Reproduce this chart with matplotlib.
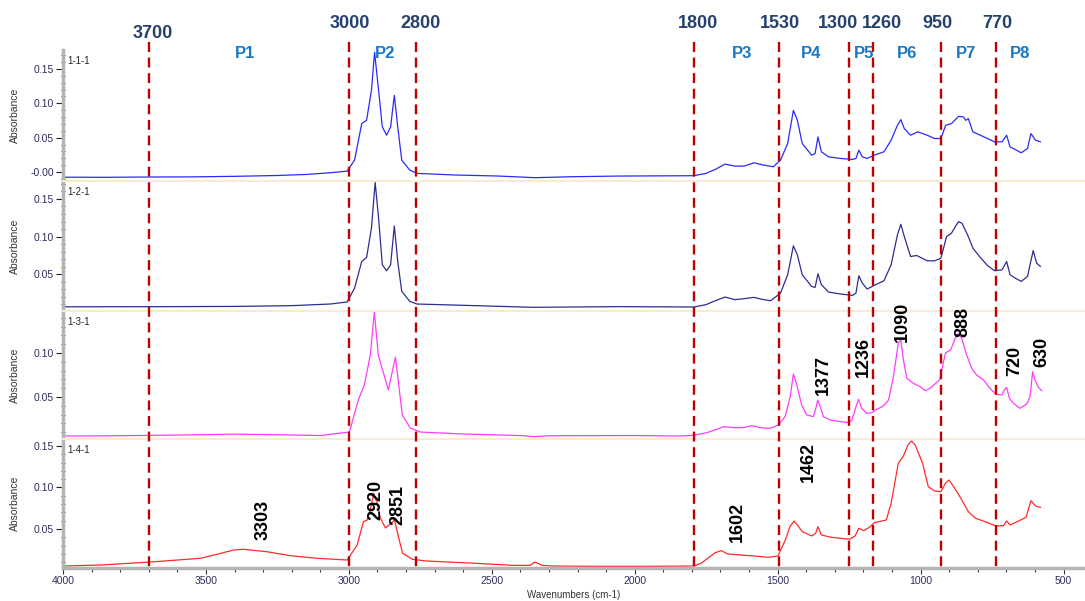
import matplotlib
matplotlib.use("Agg")
import matplotlib.pyplot as plt
from matplotlib.ticker import MultipleLocator, FixedLocator, FixedFormatter
from matplotlib.transforms import blended_transform_factory

plt.rcParams['font.family'] = ['Liberation Sans', 'DejaVu Sans']

# ---------------- data ----------------
panel_names = ["1-1-1", "1-2-1", "1-3-1", "1-4-1"]

wn1 = [4000, 3850, 3700, 3550, 3400, 3250, 3150, 3065, 3006, 2980, 2955, 2938, 2921, 2910, 2896, 2883, 2868, 2854,
       2841, 2829, 2815, 2787, 2762, 2627, 2475, 2349, 2223, 2054, 1793, 1751, 1718, 1684, 1650, 1617, 1583, 1549,
       1515, 1490, 1465, 1445, 1431, 1414, 1381, 1369, 1359, 1347, 1322, 1280, 1238, 1226, 1216, 1204, 1187, 1162,
       1128, 1103, 1081, 1069, 1057, 1035, 1010, 977, 951, 929, 912, 892, 867, 850, 842, 833, 817, 791, 766, 741,
       715, 699, 687, 665, 648, 626, 614, 598, 581]
abs1 = [-0.0075, -0.0076, -0.0072, -0.0070, -0.0062, -0.0050, -0.0035, -0.0010, 0.0014, 0.0174, 0.0705, 0.0753,
        0.1188, 0.1744, 0.1188, 0.0657, 0.0536, 0.0657, 0.1116, 0.0657, 0.0174, 0.0029, -0.0019, -0.0043, -0.0058,
        -0.0082, -0.0068, -0.0058, -0.0053, -0.0019, 0.0039, 0.0116, 0.0087, 0.0087, 0.0135, 0.0101, 0.0077, 0.0174,
        0.0415, 0.0898, 0.0753, 0.0415, 0.0246, 0.0270, 0.0512, 0.0295, 0.0222, 0.0198, 0.0184, 0.0198, 0.0319,
        0.0222, 0.0198, 0.0246, 0.0295, 0.0464, 0.0681, 0.0763, 0.0633, 0.0536, 0.0585, 0.0536, 0.0488, 0.0488,
        0.0681, 0.0705, 0.0811, 0.0802, 0.0753, 0.0778, 0.0585, 0.0536, 0.0488, 0.0440, 0.0440, 0.0536, 0.0367,
        0.0319, 0.0280, 0.0343, 0.0560, 0.0464, 0.0440]

wn2 = [4000, 3700, 3400, 3200, 3065, 3006, 2980, 2955, 2938, 2921, 2908, 2896, 2883, 2868, 2854, 2841, 2829, 2815,
       2787, 2762, 2593, 2357, 2054, 1793, 1751, 1718, 1684, 1650, 1617, 1583, 1549, 1524, 1490, 1465, 1445, 1431,
       1414, 1381, 1369, 1359, 1347, 1322, 1280, 1238, 1226, 1216, 1204, 1187, 1162, 1128, 1103, 1081, 1069, 1057,
       1035, 1014, 977, 951, 929, 909, 892, 875, 867, 855, 833, 817, 791, 766, 741, 715, 699, 687, 665, 648, 626,
       606, 594, 581]
abs2 = [0.0065, 0.0066, 0.0070, 0.0080, 0.0102, 0.0129, 0.0314, 0.0668, 0.0721, 0.1110, 0.1720, 0.1243, 0.0624,
        0.0544, 0.0624, 0.1141, 0.0668, 0.0270, 0.0138, 0.0102, 0.0084, 0.0058, 0.0067, 0.0062, 0.0093, 0.0146,
        0.0195, 0.0160, 0.0173, 0.0190, 0.0160, 0.0146, 0.0248, 0.0491, 0.0876, 0.0756, 0.0491, 0.0336, 0.0323,
        0.0504, 0.0359, 0.0261, 0.0235, 0.0217, 0.0248, 0.0478, 0.0381, 0.0301, 0.0350, 0.0412, 0.0624, 0.1022,
        0.1163, 0.1000, 0.0734, 0.0748, 0.0677, 0.0677, 0.0712, 0.1000, 0.1044, 0.1154, 0.1198, 0.1176, 0.1000,
        0.0845, 0.0721, 0.0615, 0.0544, 0.0557, 0.0668, 0.0491, 0.0438, 0.0403, 0.0469, 0.0814, 0.0646, 0.0602]

wn3 = [4000, 3800, 3600, 3400, 3250, 3100, 2998, 2967, 2946, 2925, 2911, 2897, 2862, 2837, 2813, 2785, 2750, 2600,
       2400, 2350, 2300, 2000, 1841, 1794, 1748, 1713, 1689, 1654, 1619, 1590, 1561, 1526, 1497, 1474, 1456, 1445,
       1433, 1416, 1398, 1375, 1365, 1360, 1351, 1340, 1316, 1281, 1258, 1241, 1226, 1217, 1206, 1188, 1171, 1153,
       1130, 1112, 1095, 1078, 1069, 1060, 1048, 1025, 1002, 984, 967, 943, 932, 920, 912, 895, 879, 868, 856, 839,
       821, 804, 780, 757, 736, 716, 708, 699, 689, 675, 652, 629, 617, 608, 600, 588, 576]
abs3 = [0.0057, 0.0060, 0.0068, 0.0078, 0.0072, 0.0062, 0.0102, 0.0466, 0.0636, 0.0977, 0.1466, 0.0977, 0.0580,
        0.0954, 0.0295, 0.0148, 0.0102, 0.0080, 0.0062, 0.0050, 0.0060, 0.0062, 0.0057, 0.0065, 0.0095, 0.0133,
        0.0163, 0.0152, 0.0152, 0.0174, 0.0152, 0.0144, 0.0182, 0.0277, 0.0504, 0.0761, 0.0636, 0.0409, 0.0296,
        0.0277, 0.0390, 0.0466, 0.0390, 0.0277, 0.0239, 0.0220, 0.0212, 0.0231, 0.0390, 0.0474, 0.0371, 0.0314,
        0.0322, 0.0360, 0.0398, 0.0466, 0.0731, 0.1110, 0.1148, 0.0920, 0.0712, 0.0655, 0.0617, 0.0572, 0.0598,
        0.0667, 0.0701, 0.0901, 0.1003, 0.1034, 0.1166, 0.1223, 0.1166, 0.0977, 0.0826, 0.0750, 0.0693, 0.0598,
        0.0530, 0.0523, 0.0572, 0.0610, 0.0485, 0.0428, 0.0371, 0.0420, 0.0504, 0.0788, 0.0693, 0.0610, 0.0572]

wn4 = [4000, 3869, 3694, 3519, 3461, 3403, 3369, 3286, 3205, 3111, 3006, 2971, 2949, 2936, 2925, 2913, 2901, 2890,
       2872, 2855, 2840, 2829, 2812, 2778, 2728, 2560, 2425, 2366, 2349, 2324, 2290, 2138, 1970, 1793, 1768, 1734,
       1718, 1697, 1675, 1633, 1583, 1532, 1499, 1473, 1457, 1443, 1431, 1414, 1381, 1367, 1359, 1347, 1313, 1280,
       1249, 1229, 1216, 1199, 1179, 1162, 1120, 1103, 1078, 1061, 1044, 1032, 1019, 993, 973, 951, 929, 913, 901,
       884, 859, 833, 808, 774, 736, 710, 699, 687, 657, 631, 614, 598, 581]
abs4 = [0.0054, 0.0066, 0.0102, 0.0147, 0.0195, 0.0247, 0.0255, 0.0226, 0.0178, 0.0147, 0.0126, 0.0307, 0.0588,
        0.0608, 0.0729, 0.0930, 0.0813, 0.0633, 0.0512, 0.0560, 0.0608, 0.0440, 0.0207, 0.0135, 0.0114, 0.0087,
        0.0062, 0.0062, 0.0102, 0.0062, 0.0054, 0.0050, 0.0050, 0.0054, 0.0087, 0.0175, 0.0215, 0.0239, 0.0199,
        0.0187, 0.0175, 0.0159, 0.0175, 0.0368, 0.0528, 0.0596, 0.0548, 0.0468, 0.0416, 0.0448, 0.0528, 0.0428,
        0.0400, 0.0388, 0.0376, 0.0416, 0.0508, 0.0480, 0.0520, 0.0576, 0.0608, 0.0810, 0.1292, 0.1372, 0.1513,
        0.1560, 0.1513, 0.1292, 0.1010, 0.0958, 0.0950, 0.1051, 0.1090, 0.1010, 0.0870, 0.0709, 0.0629, 0.0588,
        0.0536, 0.0540, 0.0596, 0.0548, 0.0596, 0.0641, 0.0841, 0.0777, 0.0761]

spectra_wn = [wn1, wn2, wn3, wn4]
spectra_abs = [abs1, abs2, abs3, abs4]

ytick_values = [[0.0, 0.05, 0.10, 0.15], [0.05, 0.10, 0.15], [0.05, 0.10], [0.05, 0.10, 0.15]]
ytick_labels = [["-0.00", "0.05", "0.10", "0.15"], ["0.05", "0.10", "0.15"], ["0.05", "0.10"],
                ["0.05", "0.10", "0.15"]]
ylims = [(-0.0130, 0.1776), (0.0009, 0.1739), (0.0023, 0.1477), (0.0030, 0.1584)]

region_lines_wn = [3700, 3000, 2765, 1793, 1495, 1250, 1168, 930, 736]
region_line_labels = ["3700", "3000", "2800", "1800", "1530", "1300", "1260", "950", "770"]
region_label_wn = [3687, 2995, 2750, 1778, 1491, 1289, 1135, 942, 733]

region_names = ["P1", "P2", "P3", "P4", "P5", "P6", "P7", "P8"]
region_name_wn = [3362, 2872, 1624, 1383, 1198, 1047, 841, 652]

peak_labels = ["3303", "2920", "2851", "1602", "1462", "1377", "1236", "1090", "888", "720", "630"]
peak_label_wn = [3299, 2907, 2827, 1642, 1393, 1341, 1201, 1065, 852, 670, 575]

# ---------------- style / layout ----------------
W, H = 1085, 601
fig = plt.figure(figsize=(W / 100, H / 100), dpi=100)

line_colors = ["#2a2aff", "#2e2e8e", "#ff3cff", "#ff2a2a"]
panel_px = [(50, 181), (181, 311), (311, 439), (439, 568)]
left_px = 63
tick_col = "#2e2e5e"
spine_gray = "#b4b4b4"
sep_col = "#f7ead6"

axes = []
for i, (t, b) in enumerate(panel_px):
    rect = [left_px / W, 1 - b / H, 1 - left_px / W, (b - t) / H]
    ax = fig.add_axes(rect, sharex=axes[0] if axes else None)
    axes.append(ax)
    ax.plot(spectra_wn[i], spectra_abs[i], color=line_colors[i], lw=0.9, clip_on=False, zorder=2)
    ax.set_ylim(*ylims[i])
    ax.yaxis.set_major_locator(FixedLocator(ytick_values[i]))
    ax.yaxis.set_major_formatter(FixedFormatter(ytick_labels[i]))
    ax.yaxis.set_minor_locator(MultipleLocator(0.01))
    ax.tick_params(axis='y', which='major', direction='out', length=5, width=0.8, color='#222222',
                   labelsize=7.5, labelcolor=tick_col, pad=1.5)
    ax.tick_params(axis='y', which='minor', direction='inout', length=3, width=0.8, color='#222222')
    ax.spines['right'].set_visible(False)
    ax.spines['left'].set_color(spine_gray)
    ax.spines['left'].set_linewidth(2.5)
    if i == 0:
        ax.spines['top'].set_visible(False)
    else:
        ax.spines['top'].set_color(sep_col)
        ax.spines['top'].set_linewidth(1.5)
    if i < 3:
        ax.spines['bottom'].set_visible(False)
        ax.tick_params(axis='x', which='both', bottom=False, labelbottom=False)
    ax.text(0.004, 1.0, panel_names[i], transform=ax.transAxes, ha='left', va='top',
            fontsize=7, color='#222222')
    # offset label a few pixels down
    ax.texts[-1].set_position((0.004, 1 - 6 / (b - t)))
    fig.text(15 / W, 1 - (t + b) / 2 / H, "Absorbance", rotation=90, ha='center', va='center',
             fontsize=7.5, color='#333333')

ax4 = axes[-1]
ax4.set_xlim(4000, 4000 - (W - 62.5) / 0.286)
ax4.xaxis.set_major_locator(MultipleLocator(500))
ax4.xaxis.set_minor_locator(MultipleLocator(100))
ax4.tick_params(axis='x', which='major', direction='out', length=4, width=0.8, color='#333333',
                labelsize=7.5, labelcolor=tick_col, pad=2)
ax4.tick_params(axis='x', which='minor', direction='out', length=3, width=0.8, color='#333333')
ax4.spines['bottom'].set_color(spine_gray)
ax4.spines['bottom'].set_linewidth(2.5)
ax4.set_xlabel("Wavenumbers (cm-1)", fontsize=7, color='#333333', labelpad=3)

# ---------------- annotations ----------------
trans = blended_transform_factory(ax4.transData, fig.transFigure)
y_top = 1 - 42 / H
y_bot = 1 - 568 / H
for x in region_lines_wn:
    ax4.plot([x, x], [y_top, y_bot], transform=trans, color='#c00000', lw=1.7,
             linestyle=(0, (4.2, 2.4)), clip_on=False, zorder=5)

for lab, x in zip(region_line_labels, region_label_wn):
    ypx = 33 if lab == "3700" else 23
    ax4.text(x, 1 - ypx / H, lab, transform=trans, ha='center', va='center', fontsize=13,
             fontweight='bold', color='#25426e', clip_on=False)

for lab, x in zip(region_names, region_name_wn):
    ax4.text(x, 1 - 53 / H, lab, transform=trans, ha='center', va='center', fontsize=12,
             fontweight='bold', color='#1a78c2', clip_on=False)

peak_label_ypx = [520, 500, 505, 522, 462, 375, 357, 322, 322, 361, 352]
for lab, x, ypx in zip(peak_labels, peak_label_wn, peak_label_ypx):
    ax4.text(x, 1 - ypx / H, lab, transform=trans, rotation=90, ha='center', va='center',
             fontsize=13, fontweight='bold', color='black', clip_on=False, zorder=6)

ax4.set_xlim(4000, 4000 - (W - 62.5) / 0.286)
ax4.set_ylim(*ylims[3])

fig.savefig("out.png", dpi=100)
